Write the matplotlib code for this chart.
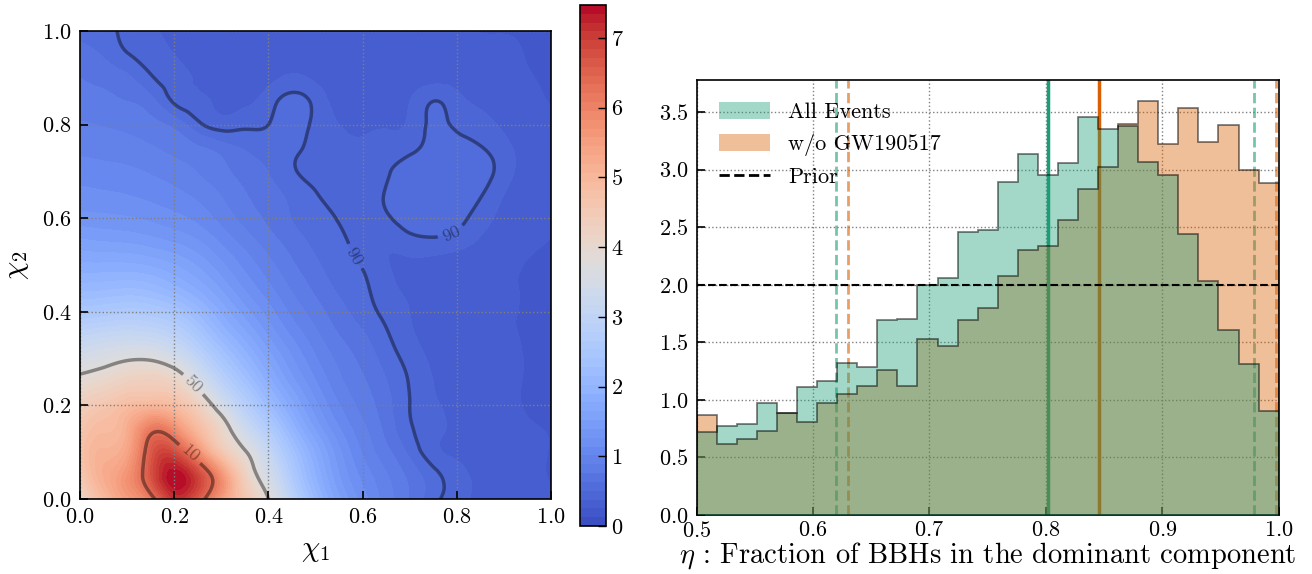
import numpy as np
import matplotlib
matplotlib.use("Agg")
import matplotlib.pyplot as plt
import matplotlib.tri as mtri
from matplotlib.patches import Patch
from matplotlib.lines import Line2D

plt.rcParams["font.family"] = "cmr10"
plt.rcParams["mathtext.fontset"] = "cm"
plt.rcParams["axes.unicode_minus"] = False
plt.rcParams["axes.formatter.use_mathtext"] = True

# --- joint density of (chi1, chi2) on a 0.05 grid; rows are chi2 = 0 .. 1 ---
chi_grid = np.linspace(0, 1, 21)
density_rows = [
    [4.10, 4.90, 5.50, 6.10, 7.10, 6.60, 5.50, 4.60, 3.80, 2.90, 2.10, 1.55, 1.20, 0.95, 0.75, 0.55, 0.42, 0.35, 0.30, 0.28, 0.26],
    [4.50, 5.20, 5.70, 6.70, 7.45, 6.90, 5.70, 4.30, 3.45, 2.60, 1.90, 1.40, 1.10, 0.90, 0.72, 0.55, 0.42, 0.35, 0.30, 0.27, 0.25],
    [4.70, 5.10, 5.40, 6.60, 6.80, 5.80, 4.60, 3.85, 3.10, 2.35, 1.75, 1.30, 1.00, 0.80, 0.60, 0.42, 0.36, 0.33, 0.29, 0.27, 0.25],
    [4.60, 4.90, 5.20, 6.10, 5.80, 4.90, 4.10, 3.30, 2.65, 2.00, 1.50, 1.15, 0.92, 0.72, 0.52, 0.42, 0.35, 0.31, 0.28, 0.26, 0.25],
    [4.35, 4.60, 4.85, 5.00, 4.85, 4.30, 3.50, 2.80, 2.20, 1.70, 1.30, 1.02, 0.84, 0.68, 0.50, 0.40, 0.34, 0.30, 0.27, 0.25, 0.24],
    [3.95, 4.10, 4.30, 4.35, 4.20, 3.60, 2.90, 2.35, 1.85, 1.45, 1.15, 0.92, 0.78, 0.64, 0.49, 0.38, 0.33, 0.30, 0.27, 0.25, 0.24],
    [3.50, 3.62, 3.75, 3.75, 3.50, 3.00, 2.45, 2.00, 1.60, 1.28, 1.03, 0.85, 0.72, 0.58, 0.45, 0.36, 0.32, 0.29, 0.27, 0.25, 0.24],
    [3.00, 3.10, 3.15, 3.10, 2.90, 2.50, 2.05, 1.70, 1.38, 1.12, 0.92, 0.76, 0.65, 0.52, 0.40, 0.34, 0.31, 0.28, 0.26, 0.25, 0.24],
    [2.50, 2.55, 2.60, 2.55, 2.40, 2.10, 1.75, 1.45, 1.20, 0.98, 0.82, 0.68, 0.57, 0.46, 0.38, 0.33, 0.30, 0.28, 0.26, 0.25, 0.24],
    [2.10, 2.12, 2.15, 2.10, 1.95, 1.75, 1.50, 1.25, 1.05, 0.87, 0.73, 0.61, 0.53, 0.42, 0.36, 0.33, 0.30, 0.28, 0.26, 0.25, 0.24],
    [1.80, 1.80, 1.80, 1.75, 1.65, 1.50, 1.30, 1.10, 0.93, 0.78, 0.66, 0.56, 0.49, 0.39, 0.36, 0.34, 0.31, 0.29, 0.27, 0.25, 0.24],
    [1.55, 1.52, 1.50, 1.45, 1.38, 1.28, 1.12, 0.96, 0.82, 0.70, 0.60, 0.53, 0.44, 0.40, 0.45, 0.47, 0.44, 0.36, 0.30, 0.27, 0.25],
    [1.32, 1.30, 1.28, 1.24, 1.18, 1.10, 0.97, 0.84, 0.73, 0.63, 0.56, 0.49, 0.44, 0.48, 0.56, 0.58, 0.54, 0.44, 0.34, 0.29, 0.26],
    [1.18, 1.16, 1.14, 1.10, 1.05, 0.98, 0.88, 0.77, 0.68, 0.60, 0.51, 0.45, 0.44, 0.51, 0.58, 0.60, 0.58, 0.51, 0.38, 0.30, 0.26],
    [1.08, 1.06, 1.04, 1.00, 0.95, 0.88, 0.80, 0.71, 0.63, 0.52, 0.46, 0.43, 0.42, 0.48, 0.57, 0.60, 0.60, 0.56, 0.44, 0.32, 0.27],
    [0.98, 0.96, 0.94, 0.90, 0.85, 0.78, 0.70, 0.62, 0.58, 0.54, 0.45, 0.40, 0.40, 0.43, 0.46, 0.56, 0.57, 0.51, 0.42, 0.32, 0.27],
    [0.90, 0.88, 0.85, 0.80, 0.72, 0.54, 0.44, 0.47, 0.50, 0.58, 0.46, 0.38, 0.36, 0.37, 0.40, 0.53, 0.47, 0.42, 0.36, 0.30, 0.26],
    [0.82, 0.80, 0.76, 0.68, 0.48, 0.40, 0.36, 0.36, 0.44, 0.56, 0.46, 0.34, 0.33, 0.33, 0.38, 0.50, 0.42, 0.36, 0.32, 0.28, 0.25],
    [0.76, 0.72, 0.66, 0.52, 0.42, 0.37, 0.34, 0.33, 0.35, 0.40, 0.36, 0.31, 0.30, 0.30, 0.31, 0.34, 0.33, 0.30, 0.28, 0.26, 0.24],
    [0.68, 0.62, 0.51, 0.44, 0.38, 0.34, 0.32, 0.31, 0.32, 0.33, 0.32, 0.30, 0.28, 0.28, 0.28, 0.29, 0.29, 0.28, 0.27, 0.25, 0.24],
    [0.60, 0.55, 0.46, 0.40, 0.35, 0.32, 0.30, 0.29, 0.29, 0.29, 0.28, 0.27, 0.26, 0.26, 0.26, 0.26, 0.26, 0.25, 0.25, 0.24, 0.23],
]
# density values of the 90/50/10 % credible contours
credible_levels = [0.5, 3.8, 6.3]
credible_names = ["90", "50", "10"]

# --- eta histograms (density) ---
eta_edges = np.linspace(0.5, 1.0, 30)
all_events = [0.72, 0.77, 0.79, 0.97, 0.89, 1.11, 1.16, 1.32, 1.29, 1.69, 1.70, 2.00, 2.06, 2.46,
              2.48, 2.89, 3.14, 2.95, 3.06, 3.46, 3.35, 3.38, 3.07, 2.95, 2.44, 2.03, 1.61, 1.31, 0.90]
without_190517 = [0.87, 0.62, 0.66, 0.73, 0.89, 0.81, 0.97, 1.05, 1.12, 1.26, 1.12, 1.53, 1.47, 1.69,
                  1.80, 2.08, 2.30, 2.34, 2.56, 2.83, 3.02, 3.40, 3.60, 3.22, 3.54, 3.24, 3.39, 3.00, 2.88]
all_median, all_lo, all_hi = 0.8015, 0.620, 0.979
wo_median, wo_lo, wo_hi = 0.846, 0.630, 0.998
prior_density = 2.0

teal = "#1b9e77"
orange = "#d95f02"

fig = plt.figure(figsize=(13.12, 5.74), dpi=100)
ax1 = fig.add_axes([0.061, 0.1307, 0.359, 0.815])
cax = fig.add_axes([0.442, 0.0836, 0.0198, 0.9077])
ax2 = fig.add_axes([0.531, 0.1028, 0.4436, 0.758])

# left: smooth density map with credible contours
X, Y = np.meshgrid(chi_grid, chi_grid)
Z = np.array(density_rows)
tri = mtri.Triangulation(X.ravel(), Y.ravel())
interp = mtri.CubicTriInterpolator(tri, Z.ravel(), kind="min_E")
refiner = mtri.UniformTriRefiner(tri)
tri_f, z_f = refiner.refine_field(Z.ravel(), triinterpolator=interp, subdiv=4)
z_f = np.clip(z_f, 0, None)

levels = np.linspace(0, z_f.max(), 60)
cf = ax1.tricontourf(tri_f, z_f, levels=levels, cmap="coolwarm")
cs = ax1.tricontour(tri_f, z_f, levels=credible_levels, colors="k", alpha=0.4, linewidths=2.5)
ax1.clabel(cs, fmt=dict(zip(credible_levels, credible_names)), fontsize=13, inline=True,
           manual=[(0.585, 0.52), (0.785, 0.575), (0.24, 0.245), (0.245, 0.11)])

cb = fig.colorbar(cf, cax=cax, ticks=range(8))
cb.ax.tick_params(direction="in", labelsize=16, length=6, width=1)
cb.outline.set_linewidth(1.2)

ax1.set_xlim(0, 1)
ax1.set_ylim(0, 1)
ax1.set_xticks(np.arange(0, 1.01, 0.2))
ax1.set_yticks(np.arange(0, 1.01, 0.2))
ax1.grid(True, ls=":", color="gray", lw=1)
ax1.set_xlabel(r"$\chi_1$", fontsize=21, labelpad=8)
ax1.set_ylabel(r"$\chi_2$", fontsize=21, labelpad=8)

# right: eta posteriors
ax2.axvline(all_median, color=teal, lw=2.5, zorder=1)
ax2.axvline(wo_median, color=orange, lw=2.5, zorder=1)
for v in (all_lo, all_hi):
    ax2.axvline(v, color=teal, ls="--", lw=2, alpha=0.6, zorder=1)
for v in (wo_lo, wo_hi):
    ax2.axvline(v, color=orange, ls="--", lw=2, alpha=0.6, zorder=1)

ax2.stairs(without_190517, eta_edges, fill=True, color=orange, alpha=0.4, zorder=2)
ax2.stairs(all_events, eta_edges, fill=True, color=teal, alpha=0.4, zorder=3)
ax2.stairs(without_190517, eta_edges, color="k", alpha=0.55, lw=1.2, zorder=4)
ax2.stairs(all_events, eta_edges, color="k", alpha=0.55, lw=1.2, zorder=4)
ax2.axhline(prior_density, color="k", ls="--", lw=1.5, zorder=5)

ax2.set_xlim(0.5, 1.0)
ax2.set_ylim(0, 1.05 * max(max(all_events), max(without_190517)))
ax2.set_yticks(np.arange(0, 3.6, 0.5))
ax2.set_axisbelow(True)
ax2.grid(True, ls=":", color="gray", lw=1)

handles = [Patch(facecolor=teal, alpha=0.4, label="All Events"),
           Patch(facecolor=orange, alpha=0.4, label="w/o GW190517"),
           Line2D([], [], color="k", ls="--", lw=2, label="Prior")]
ax2.legend(handles=handles, loc="upper left", frameon=False, fontsize=16,
           handlelength=2.3, handleheight=0.8, borderaxespad=0.6)

for ax in (ax1, ax2):
    ax.tick_params(direction="in", labelsize=16, length=6, width=1.2, pad=6)
    for s in ax.spines.values():
        s.set_linewidth(1.2)
ax2.tick_params(axis="x", pad=4)
ax2.set_xlabel(r"$\eta$ : Fraction of BBHs in the dominant component", fontsize=20.5, labelpad=0)

fig.savefig("out.png", dpi=100)
